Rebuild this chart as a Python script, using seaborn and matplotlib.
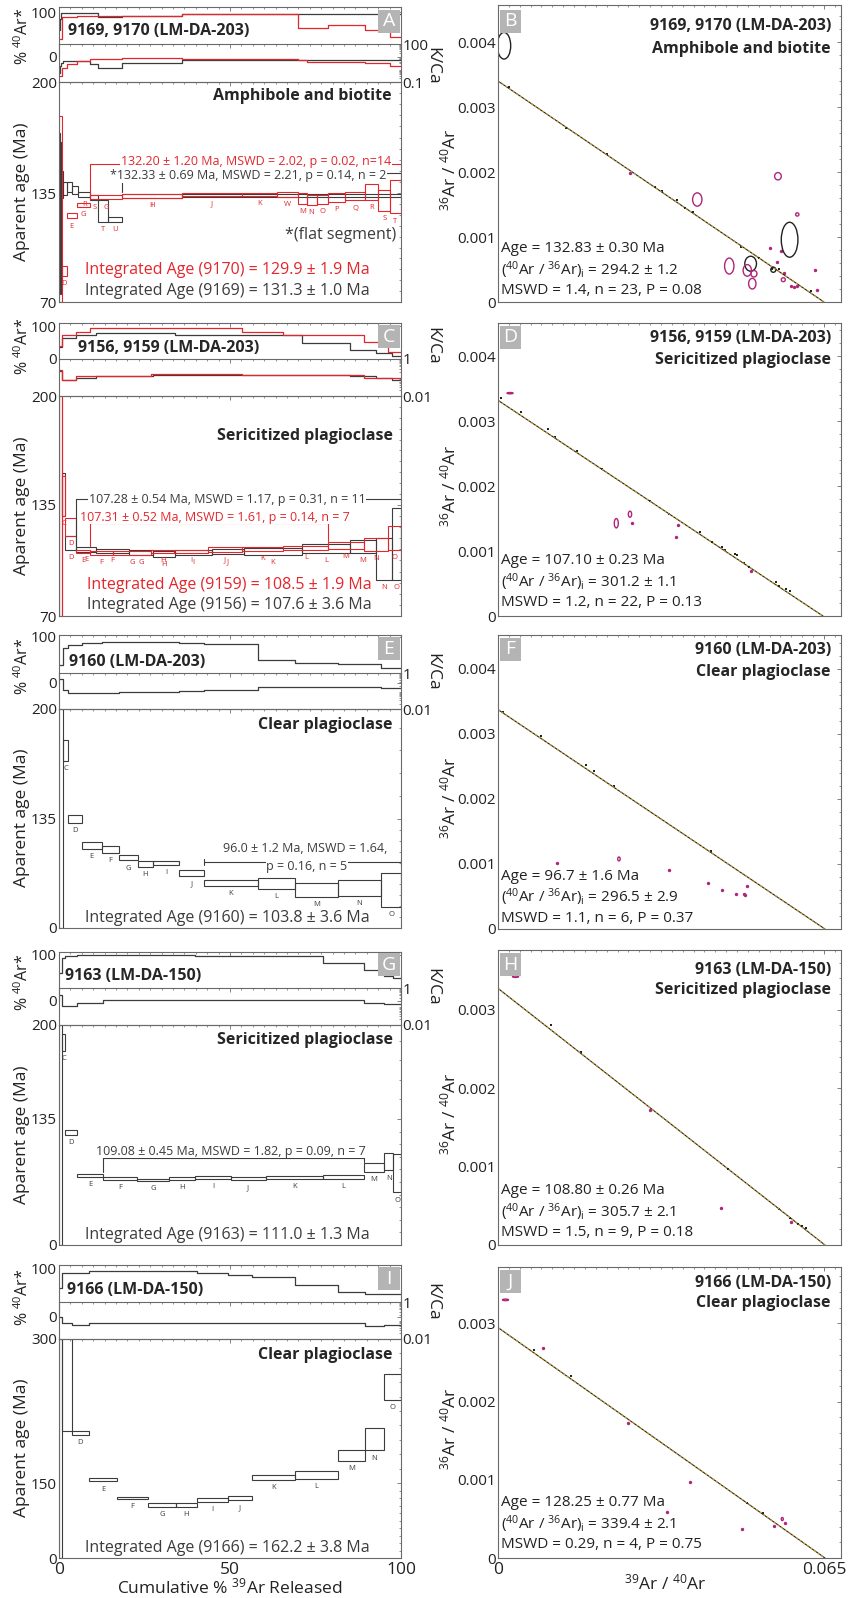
import numpy as np
import matplotlib.pyplot as plt
import matplotlib.ticker as mticker
from matplotlib.patches import Ellipse, Rectangle
import seaborn as sns

sns.set_style('white')
plt.rcParams['font.family'] = ['Open Sans', 'DejaVu Sans']
plt.rcParams['mathtext.fontset'] = 'custom'
plt.rcParams['mathtext.rm'] = 'Open Sans'
plt.rcParams['mathtext.it'] = 'Open Sans:italic'
plt.rcParams['mathtext.bf'] = 'Open Sans:bold'

# ---------------- age spectra (left column) ----------------
# A: 9169 (black) and 9170 (red)
a_9169_edges = [0, 0.3, 0.6, 1.3, 2.2, 3.7, 5.7, 9.1, 11.5, 14.4, 18.3, 35.9, 100]
a_9169_age = [150, 120, 140, 137.5, 138.5, 136.8, 134.1, 132.2, 124.3, 119.5, 133.3, 133.6]
a_9169_err = [20, 45, 8, 3.9, 2.9, 2.6, 1.5, 1.5, 6.3, 1.5, 1.0, 0.8]
a_9169_rad = [60, 85, 97, 98, 98, 98, 98, 98, 90, 90, 91, 95]
a_9169_kca = [0.5, 2, 3, 4.6, 4.6, 4.6, 4.6, 2.5, 1.3, 1.3, 3.0, 5.5]
a_9169_step = ['', '', '', '', '', '', 'R', 'S', 'T', 'U', 'H', '']

a_9170_edges = [0, 0.8, 2.2, 5.2, 9.1, 18.3, 35.9, 53.4, 63.6, 70.0, 72.4, 75.3, 78.8, 83.6, 89.5, 93.4, 96.8, 100]
a_9170_age = [125, 88.7, 121.4, 127.8, 132.4, 133.2, 134.2, 134.1, 134.1, 131.7, 130.8, 131.0, 132.4, 133.0, 135.4, 130.8, 132.7]
a_9170_err = [55, 3, 1.5, 1, 1.2, 1, 0.8, 1, 1.6, 3.3, 2.8, 2.7, 2.6, 2.4, 4.7, 6.2, 9.8]
a_9170_rad = [40, 88, 90, 91, 91, 92, 95, 95, 95, 64, 64, 64, 72, 72, 59, 59, 45]
a_9170_kca = [0.3, 1.2, 2.5, 4.5, 6, 7.5, 6, 6, 6, 5, 4, 4, 3.6, 3.6, 3, 3, 1.7]
a_9170_step = ['', 'D', 'E', 'G', 'G', 'I', 'J', 'K', 'W', 'M', 'N', 'O', 'P', 'Q', 'R', 'S', 'T']

# C: 9156 (black) and 9159 (red)
c_9156_edges = [0, 0.8, 1.8, 5.1, 10.8, 20.4, 27.6, 34.0, 44.6, 54.1, 71.0, 85.2, 92.6, 97.3, 100]
c_9156_age = [140, 141.4, 112.8, 108.9, 108.0, 107.1, 106.1, 107.3, 107.8, 107.8, 109.5, 110.5, 103.3, 112.2]
c_9156_err = [70, 12.9, 4, 1.2, 1.2, 1.3, 1.7, 1.5, 1.4, 2, 2.8, 3.8, 12.3, 21.2]
c_9156_rad = [35, 63, 63, 73, 78, 78, 78, 73, 73, 73, 50, 28, 18, 8]
c_9156_kca = [0.22, 0.07, 0.07, 0.1, 0.12, 0.12, 0.14, 0.14, 0.14, 0.14, 0.14, 0.12, 0.09, 0.07]
c_9156_step = ['', '', 'D', 'E', 'F', 'G', 'H', 'I', 'J', 'K', 'L', 'M', 'N', 'O']

c_9159_edges = [0, 0.8, 1.8, 5.1, 9.1, 15.8, 27.0, 33.6, 43.5, 53.4, 65.5, 78.8, 89.1, 96.3, 100]
c_9159_age = [135, 140.4, 122.1, 107.8, 106.8, 106.8, 107.8, 107.8, 108.8, 109.3, 109.9, 111.3, 111.9, 115.8]
c_9159_err = [70, 11.9, 5.4, 1, 1, 1, 1, 1, 1.3, 1.2, 1.2, 2.2, 4, 6.9]
c_9159_rad = [38, 73, 73, 83, 93, 93, 93, 93, 93, 83, 73, 73, 53, 20]
c_9159_kca = [0.26, 0.074, 0.074, 0.12, 0.12, 0.12, 0.16, 0.16, 0.16, 0.14, 0.14, 0.14, 0.09, 0.09]
c_9159_step = ['', 'C', 'D', 'E', 'F', 'G', 'H', 'I', 'J', 'K', 'L', 'M', 'N', 'O']

# E: 9160
e_edges = [0, 1.3, 2.7, 6.6, 12.5, 17.6, 23.0, 27.6, 35.1, 42.5, 58.1, 69.0, 81.5, 94.2, 100]
e_age = [100, 175.5, 133.8, 102.1, 97, 87.2, 79.4, 80.8, 68, 56.1, 55.1, 47.1, 49.6, 46.8]
e_err = [100, 6.4, 3.8, 3.9, 4, 3.5, 3.9, 2.5, 3.3, 3.7, 6.8, 8.7, 9.5, 20.7]
e_rad = [40, 76, 83, 88, 89, 89, 89, 89, 88, 85, 50, 43, 41, 33]
e_kca = [0.47, 0.11, 0.08, 0.08, 0.08, 0.085, 0.09, 0.09, 0.1, 0.11, 0.17, 0.17, 0.17, 0.15]
e_step = ['', 'C', 'D', 'E', 'F', 'G', 'H', 'I', 'J', 'K', 'L', 'M', 'N', 'O']

# G: 9163
g_edges = [0, 0.8, 1.8, 5.2, 13.0, 22.7, 32.3, 39.8, 50.2, 60.4, 77.1, 89.2, 95.1, 97.7, 100]
g_age = [100, 188, 120.5, 74.6, 71.3, 69.8, 71.3, 72.5, 71.3, 72.5, 72.9, 83, 89.2, 77]
g_err = [100, 6, 2.4, 1.3, 1.5, 1.1, 1.5, 1.3, 1.5, 1.3, 1.8, 4.8, 9.3, 20.6]
g_rad = [60, 93, 97, 99, 99, 99, 99, 98, 98, 97, 83, 67, 55, 50]
g_kca = [0.43, 0.11, 0.11, 0.16, 0.23, 0.23, 0.23, 0.23, 0.23, 0.23, 0.23, 0.16, 0.13, 0.13]
g_step = ['', 'C', 'D', 'E', 'F', 'G', 'H', 'I', 'J', 'K', 'L', 'M', 'N', 'O']

# I: 9166
i_edges = [0, 0.8, 3.7, 8.8, 17.0, 26.1, 34.1, 40.4, 49.4, 56.3, 69.0, 81.6, 89.4, 94.9, 100]
i_age = [150, 500, 202.4, 153.5, 120.4, 107, 105.6, 117, 120.4, 155.7, 158.4, 178.7, 195.7, 250.4]
i_err = [150, 296, 2, 1.7, 2.7, 4, 4, 4, 4, 2.3, 3.8, 6, 11.6, 13.5]
i_rad = [60, 90, 90, 94, 94, 94, 94, 90, 86, 82, 65, 51, 47, 47]
i_kca = [0.16, 0.07, 0.056, 0.075, 0.075, 0.075, 0.075, 0.075, 0.075, 0.075, 0.075, 0.075, 0.05, 0.06]
i_step = ['', '', 'D', 'E', 'F', 'G', 'H', 'I', 'J', 'K', 'L', 'M', 'N', 'O']

# ---------------- inverse isochrons (right column) ----------------
b_yint, b_xint = 0.00340, 0.0650
b_inc_x = [0.00219, 0.01349, 0.02167, 0.03130, 0.03263, 0.03576, 0.03728, 0.03895, 0.04838, 0.05204, 0.05470, 0.05602, 0.06234]
b_inc_y = [0.003313, 0.002673, 0.002279, 0.001767, 0.001715, 0.001562, 0.001449, 0.001383, 0.000845, 0.000676, 0.000512, 0.000512, 0.000164]
b_exc_x = [0.02625, 0.05416, 0.05569, 0.05636, 0.05702, 0.05835, 0.05901, 0.05955, 0.06313, 0.06367]
b_exc_y = [0.001981, 0.000835, 0.000614, 0.000783, 0.000445, 0.000241, 0.000230, 0.000241, 0.000497, 0.000179]
b_kell_x = [0.0012, 0.05815, 0.05038, 0.0549]
b_kell_y = [0.003943, 0.000958, 0.000589, 0.000497]
b_kell_w = [0.00266, 0.00332, 0.00233, 0.001]
b_kell_h = [0.00041, 0.000538, 0.00023, 0.00008]
b_mell_x = [0.03974, 0.04612, 0.04971, 0.05071, 0.05104, 0.05583, 0.05689, 0.05968]
b_mell_y = [0.001577, 0.000553, 0.000486, 0.000282, 0.000435, 0.001935, 0.000343, 0.001347]
b_mell_w = [0.00186, 0.00186, 0.00166, 0.00146, 0.0012, 0.00133, 0.0008, 0.00066]
b_mell_h = [0.000205, 0.000246, 0.000179, 0.000164, 0.0001, 0.000113, 0.00006, 0.00005]

d_yint, d_xint = 0.00332, 0.0648
d_inc_x = [0.00066, 0.00452, 0.00997, 0.01130, 0.01582, 0.02080, 0.03031, 0.03409, 0.04027, 0.04273,
           0.04459, 0.04526, 0.04725, 0.04758, 0.04905, 0.05004, 0.05536, 0.05603, 0.05736, 0.05822]
d_inc_y = [0.003361, 0.003139, 0.002871, 0.002758, 0.002546, 0.002263, 0.001773, 0.001572, 0.001299, 0.001134,
           0.001057, 0.001015, 0.000948, 0.000938, 0.000820, 0.000758, 0.000526, 0.000464, 0.000412, 0.000387]
d_exc_x = [0.02678, 0.03542, 0.03589, 0.05038]
d_exc_y = [0.001439, 0.001222, 0.001402, 0.000696]
d_mell_x = [0.02359, 0.02632, 0.0024]
d_mell_y = [0.001428, 0.001567, 0.00343]
d_mell_w = [0.0008, 0.00066, 0.0012]
d_mell_h = [0.000144, 0.000093, 0.00002]

f_yint, f_xint = 0.003373, 0.0652
f_inc_x = [0.0010, 0.00864, 0.01748, 0.01914, 0.02313, 0.04240]
f_inc_y = [0.003335, 0.002964, 0.002521, 0.002433, 0.002191, 0.001196]
f_exc_x = [0.01183, 0.03409, 0.04194, 0.04473, 0.04752, 0.04905, 0.04925, 0.04971]
f_exc_y = [0.001015, 0.000902, 0.000706, 0.000603, 0.000536, 0.000541, 0.000526, 0.000655]
f_mell_x, f_mell_y, f_mell_w, f_mell_h = [0.02412], [0.001077], [0.0005], [0.00006]

h_yint, h_xint = 0.003271, 0.0652
h_inc_x = [0.0105, 0.01648, 0.04592, 0.05603, 0.05815, 0.05981, 0.06068, 0.06148]
h_inc_y = [0.002809, 0.00246, 0.00097, 0.00046, 0.000349, 0.000264, 0.000243, 0.000213]
h_exc_x = [0.03031, 0.04453, 0.05848]
h_exc_y = [0.001723, 0.000477, 0.000289]
h_mell_x, h_mell_y, h_mell_w, h_mell_h = [0.0035], [0.00342], [0.0012], [0.00002]

j_yint, j_xint = 0.002946, 0.0652
j_inc_x = [0.00718, 0.01449, 0.04958, 0.0529]
j_inc_y = [0.002665, 0.00233, 0.000708, 0.000571]
j_exc_x = [0.00897, 0.02592, 0.03828, 0.04858, 0.05503, 0.05716, 0.03376]
j_exc_y = [0.002682, 0.001721, 0.000966, 0.000373, 0.000408, 0.000451, 0.000584]
j_mell_x, j_mell_y, j_mell_w, j_mell_h = [0.05669, 0.0015], [0.000498, 0.00330], [0.0004, 0.0012], [0.00004, 0.00002]

# ---------------- drawing ----------------
W, H = 848, 1598
fig = plt.figure(figsize=(W / 100, H / 100), dpi=100)
fig.patch.set_facecolor('white')

red = '#e3262b'
dark = '#3c3c3c'
mag = '#b0247a'
gold = '#cfa51f'
frame = '#6a6a6a'
LX0, LX1 = 59, 401
RX0, RX1 = 498, 841


def px_axes(x0, y0, x1, y1):
    return fig.add_axes([x0 / W, 1 - y1 / H, (x1 - x0) / W, (y1 - y0) / H])


def ftext(x, y, s, **kw):
    kw.setdefault('ha', 'left')
    kw.setdefault('va', 'center')
    return fig.text(x / W, 1 - y / H, s, **kw)


def letter_box(x0, y0, x1, y1, s):
    fig.add_artist(Rectangle((x0 / W, 1 - y1 / H), (x1 - x0) / W, (y1 - y0) / H,
                             transform=fig.transFigure, facecolor='#b4b4b4', edgecolor='none'))
    ftext((x0 + x1) / 2, (y0 + y1) / 2, s, ha='center', color='white', fontsize=14)


def style(ax):
    ax.set_facecolor('none')
    for sp in ax.spines.values():
        sp.set_color(frame)
        sp.set_linewidth(0.8)
    ax.tick_params(which='both', direction='in', color='#808080', top=True, right=True,
                   labelsize=11, pad=1.5, labelcolor='#222222')
    ax.tick_params(which='major', length=3, width=0.7)
    ax.tick_params(which='minor', length=1.6, width=0.6)
    ax.set_xlabel('')
    ax.set_ylabel('')


def piecewise(vals, pos):
    vals = np.asarray(vals, float)
    pos = np.asarray(pos, float)

    def make(a, b):
        def f(v):
            v = np.asarray(v, float)
            out = np.interp(v, a, b)
            lo = (b[1] - b[0]) / (a[1] - a[0])
            hi = (b[-1] - b[-2]) / (a[-1] - a[-2])
            out = np.where(v < a[0], b[0] + (v - a[0]) * lo, out)
            out = np.where(v > a[-1], b[-1] + (v - a[-1]) * hi, out)
            return out
        return f
    return make(vals, pos), make(pos, vals)


def step_line(ax, edges, vals, color):
    sns.lineplot(x=list(edges), y=list(vals) + [vals[-1]], ax=ax, color=color, linewidth=0.9,
                 drawstyle='steps-post', estimator=None, sort=False, legend=False)


def bracket(ax, x0, x1, y, lo0, lo1, color, hi0=None, hi1=None):
    hi0 = y if hi0 is None else hi0
    hi1 = y if hi1 is None else hi1
    ax.plot([x0, x1], [y, y], color=color, lw=0.8)
    ax.plot([x0, x0], [hi0, lo0], color=color, lw=0.8)
    ax.plot([x1, x1], [hi1, lo1], color=color, lw=0.8)


def spectrum_panel(geom, age_vals, age_pos, kca_lim, samples, xlabels=False):
    top, p100, p0, sep, atop, bot = geom
    ax_r = px_axes(LX0, top, LX1, p0)
    ax_k = px_axes(LX0, sep, LX1, atop)
    ax_a = px_axes(LX0, atop, LX1, bot)
    ax_k.set_yscale('log')
    ax_a.set_yscale('function', functions=piecewise(age_vals, age_pos))
    for s in samples:
        step_line(ax_r, s['edges'], s['rad'], s['color'])
        step_line(ax_k, s['edges'], s['kca'], s['color'])
        ed = np.asarray(s['edges'], float)
        age = np.asarray(s['age'], float)
        err = np.asarray(s['err'], float)
        ax_a.bar(ed[:-1], 2 * err, bottom=age - err, width=np.diff(ed), align='edge',
                 fill=False, edgecolor=s['color'], linewidth=0.8)
        for x, lo, lab in zip((ed[:-1] + ed[1:]) / 2, age - err, s['step']):
            if lab:
                ax_a.annotate(lab, (x, lo), xytext=(0, -3), textcoords='offset points',
                              ha='center', va='top', fontsize=5.5, color=s['lcolor'],
                              annotation_clip=True)
    for ax in (ax_r, ax_k, ax_a):
        style(ax)
        ax.set_xlim(0, 100)
        ax.xaxis.set_major_locator(mticker.FixedLocator([0, 50, 100]))
        ax.xaxis.set_minor_locator(mticker.MultipleLocator(100 / 30))
        ax.tick_params(axis='x', labelbottom=False)
    # % 40Ar*
    ax_r.set_ylim(0, 100 * (p0 - top) / (p0 - p100))
    ax_r.set_yticks([0, 100])
    ax_r.set_yticklabels(['0', '100'])
    ax_r.spines['bottom'].set_visible(False)
    ax_r.tick_params(axis='x', which='both', bottom=False)
    # K/Ca
    ax_k.set_ylim(*kca_lim)
    ax_k.set_yticks(list(kca_lim))
    ax_k.set_yticklabels([('%g' % v) for v in kca_lim])
    ax_k.yaxis.set_minor_formatter(mticker.NullFormatter())
    ax_k.tick_params(axis='y', labelleft=False, labelright=True, pad=1)
    # apparent age
    ax_a.set_ylim(age_vals[0], age_vals[-1])
    ax_a.set_yticks(age_vals)
    ax_a.set_yticklabels([str(v) for v in age_vals])
    ax_a.yaxis.set_minor_locator(mticker.AutoMinorLocator(10))
    if xlabels:
        ax_a.tick_params(axis='x', labelbottom=True, labelsize=12.5, pad=3)
        ax_a.set_xticklabels(['0', '50', '100'])
    return ax_a


def isochron_panel(top, bot, ymax, yticks, yint, xint, inc_x, inc_y, exc_x, exc_y, ells, xlabels=False):
    ax = px_axes(RX0, top, RX1, bot)
    sns.lineplot(x=[0, xint], y=[yint, 0], ax=ax, color='#222222', linewidth=0.8, legend=False)
    sns.lineplot(x=[0, xint], y=[yint, 0], ax=ax, color=gold, linewidth=0.8, linestyle=(0, (2, 2)),
                 legend=False)
    sns.scatterplot(x=inc_x, y=inc_y, ax=ax, color='#222222', marker='s', s=3, linewidth=0, legend=False)
    sns.scatterplot(x=exc_x, y=exc_y, ax=ax, color=mag, marker='o', s=6, linewidth=0, legend=False)
    for ex, ey, ew, eh, ec in ells:
        for x, y, w, h in zip(ex, ey, ew, eh):
            ax.add_patch(Ellipse((x, y), w, h, fill=False, edgecolor=ec, linewidth=1.0))
    style(ax)
    ax.set_xlim(0, 0.0684)
    ax.set_ylim(0, ymax)
    ax.xaxis.set_major_locator(mticker.FixedLocator([0, 0.065]))
    ax.xaxis.set_minor_locator(mticker.MultipleLocator(0.065 / 30))
    ax.set_yticks(yticks)
    ax.set_yticklabels(['0' if v == 0 else '%.3f' % v for v in yticks])
    ax.yaxis.set_minor_locator(mticker.AutoMinorLocator(5))
    if xlabels:
        ax.tick_params(axis='x', labelbottom=True, labelsize=12.5, pad=3)
        ax.set_xticklabels(['0', '0.065'])
    else:
        ax.tick_params(axis='x', labelbottom=False)
    return ax


def sample(edges, age, err, rad, kca, step, color, lcolor):
    return dict(edges=edges, age=age, err=err, rad=rad, kca=kca, step=step, color=color, lcolor=lcolor)


# ---- left column ----
axA = spectrum_panel((7, 12, 57, 44, 82, 302), [70, 135, 200], [0, 0.495, 1], (0.1, 100), [
    sample(a_9169_edges, a_9169_age, a_9169_err, a_9169_rad, a_9169_kca, a_9169_step, dark, red),
    sample(a_9170_edges, a_9170_age, a_9170_err, a_9170_rad, a_9170_kca, a_9170_step, red, red)])
bracket(axA, a_9170_edges[4], a_9170_edges[-1], 151.8, 133.6, 150.2, red)
bracket(axA, a_9169_edges[10], a_9169_edges[-1], 146.9, 135.6, 141.6, dark)

axC = spectrum_panel((323, 326, 359, 359, 396, 616), [70, 135, 200], [0, 0.505, 1], (0.01, 1), [
    sample(c_9156_edges, c_9156_age, c_9156_err, c_9156_rad, c_9156_kca, c_9156_step, dark, red),
    sample(c_9159_edges, c_9159_age, c_9159_err, c_9159_rad, c_9159_kca, c_9159_step, red, red)])
bracket(axC, c_9156_edges[3], c_9156_edges[-1], 138.4, 110.7, 137.0, dark)
bracket(axC, c_9159_edges[4], c_9159_edges[11], 124.2, 110.7, 113.7, red)

axE = spectrum_panel((635, 637, 683, 673, 709, 928), [0, 135, 200], [0, 0.498, 1], (0.01, 1), [
    sample(e_edges, e_age, e_err, e_rad, e_kca, e_step, dark, dark)])
bracket(axE, e_edges[9], e_edges[-1], 81.4, 78.0, 78.0, dark, 85.0, 85.0)

axG = spectrum_panel((952, 955, 1001, 988, 1025, 1245), [0, 135, 200], [0, 0.573, 1], (0.01, 1), [
    sample(g_edges, g_age, g_err, g_rad, g_kca, g_step, dark, dark)])
bracket(axG, g_edges[4], g_edges[11], 93.1, 77.7, 88.8, dark)

axI = spectrum_panel((1265, 1268, 1317, 1302, 1339, 1558), [0, 150, 300], [0, 0.342, 1], (0.01, 1), [
    sample(i_edges, i_age, i_err, i_rad, i_kca, i_step, dark, dark)], xlabels=True)

# ---- right column ----
axB = isochron_panel(5, 302, 0.00457, [0, 0.001, 0.002, 0.003, 0.004], b_yint, b_xint,
                     b_inc_x, b_inc_y, b_exc_x, b_exc_y,
                     [(b_kell_x, b_kell_y, b_kell_w, b_kell_h, '#222222'),
                      (b_mell_x, b_mell_y, b_mell_w, b_mell_h, mag)])
axD = isochron_panel(323, 616, 0.00451, [0, 0.001, 0.002, 0.003, 0.004], d_yint, d_xint,
                     d_inc_x, d_inc_y, d_exc_x, d_exc_y,
                     [(d_mell_x, d_mell_y, d_mell_w, d_mell_h, mag)])
axF = isochron_panel(635, 929, 0.00452, [0, 0.001, 0.002, 0.003, 0.004], f_yint, f_xint,
                     f_inc_x, f_inc_y, f_exc_x, f_exc_y,
                     [(f_mell_x, f_mell_y, f_mell_w, f_mell_h, mag)])
axH = isochron_panel(950, 1245, 0.00376, [0, 0.001, 0.002, 0.003], h_yint, h_xint,
                     h_inc_x, h_inc_y, h_exc_x, h_exc_y,
                     [(h_mell_x, h_mell_y, h_mell_w, h_mell_h, mag)])
axJ = isochron_panel(1267, 1558, 0.00372, [0, 0.001, 0.002, 0.003], j_yint, j_xint,
                     j_inc_x, j_inc_y, j_exc_x, j_exc_y,
                     [(j_mell_x, j_mell_y, j_mell_w, j_mell_h, mag)], xlabels=True)

# ---- texts: left column ----
big = 11.5
mid = 11.5
small = 9
lab = 12.5
wbox = dict(facecolor='white', edgecolor='none', pad=0.6)

for y_lab, y_kca, y_age in [(36, 66, 192), (346, 346, 506), (666, 672, 818), (982, 987, 1135), (1297, 1302, 1448)]:
    ftext(23, y_lab, r'% $^{40}$Ar*', rotation=90, ha='center', fontsize=11.5, color='#222222')
    ftext(432, y_kca, 'K/Ca', rotation=-90, ha='center', fontsize=lab, color='#222222')
    ftext(22, y_age, 'Aparent age (Ma)', rotation=90, ha='center', fontsize=lab, color='#222222')

ftext(68, 31, '9169, 9170 (LM-DA-203)', fontsize=big, fontweight='bold')
ftext(78, 348, '9156, 9159 (LM-DA-203)', fontsize=big, fontweight='bold')
ftext(69, 662, '9160 (LM-DA-203)', fontsize=big, fontweight='bold')
ftext(65, 976, '9163 (LM-DA-150)', fontsize=big, fontweight='bold')
ftext(67, 1290, '9166 (LM-DA-150)', fontsize=big, fontweight='bold')

ftext(392, 96, 'Amphibole and biotite', ha='right', fontsize=big, fontweight='bold')
ftext(393, 436, 'Sericitized plagioclase', ha='right', fontsize=big, fontweight='bold')
ftext(393, 725, 'Clear plagioclase', ha='right', fontsize=big, fontweight='bold')
ftext(393, 1040, 'Sericitized plagioclase', ha='right', fontsize=big, fontweight='bold')
ftext(393, 1355, 'Clear plagioclase', ha='right', fontsize=big, fontweight='bold')

ftext(256, 162, '132.20 ± 1.20 Ma, MSWD = 2.02, p = 0.02, n=14', ha='center', fontsize=small, color=red, bbox=wbox)
ftext(248, 176, '*132.33 ± 0.69 Ma, MSWD = 2.21, p = 0.14, n = 2', ha='center', fontsize=small, color=dark, bbox=wbox)
ftext(396, 235, '*(flat segment)', ha='right', fontsize=mid, color=dark)
ftext(227, 270, 'Integrated Age (9170) = 129.9 ± 1.9 Ma', ha='center', fontsize=mid, color=red)
ftext(227, 291, 'Integrated Age (9169) = 131.3 ± 1.0 Ma', ha='center', fontsize=mid, color=dark)

ftext(227, 500, '107.28 ± 0.54 Ma, MSWD = 1.17, p = 0.31, n = 11', ha='center', fontsize=small, color=dark, bbox=wbox)
ftext(215, 517, '107.31 ± 0.52 Ma, MSWD = 1.61, p = 0.14, n = 7', ha='center', fontsize=small, color=red, bbox=wbox)
ftext(229, 585, 'Integrated Age (9159) = 108.5 ± 1.9 Ma', ha='center', fontsize=mid, color=red)
ftext(229, 605, 'Integrated Age (9156) = 107.6 ± 3.6 Ma', ha='center', fontsize=mid, color=dark)

ftext(305, 848, '96.0 ± 1.2 Ma, MSWD = 1.64,', ha='center', fontsize=small, color=dark, bbox=wbox)
ftext(307, 866, 'p = 0.16, n = 5', ha='center', fontsize=small, color=dark, bbox=wbox)
ftext(227, 918, 'Integrated Age (9160) = 103.8 ± 3.6 Ma', ha='center', fontsize=mid, color=dark)

ftext(231, 1151, '109.08 ± 0.45 Ma, MSWD = 1.82, p = 0.09, n = 7', ha='center', fontsize=small, color=dark, bbox=wbox)
ftext(227, 1235, 'Integrated Age (9163) = 111.0 ± 1.3 Ma', ha='center', fontsize=mid, color=dark)
ftext(227, 1548, 'Integrated Age (9166) = 162.2 ± 3.8 Ma', ha='center', fontsize=mid, color=dark)

ftext(230, 1587, r'Cumulative % $^{39}$Ar Released', ha='center', fontsize=lab, color='#222222')

for y0, s in [(10, 'A'), (325, 'C'), (637, 'E'), (953, 'G'), (1267, 'I')]:
    letter_box(378, y0, 400, y0 + 23, s)

# ---- texts: right column ----
iso_titles = [(26, 49, '9169, 9170 (LM-DA-203)', 'Amphibole and biotite'),
              (338, 360, '9156, 9159 (LM-DA-203)', 'Sericitized plagioclase'),
              (650, 672, '9160 (LM-DA-203)', 'Clear plagioclase'),
              (970, 990, '9163 (LM-DA-150)', 'Sericitized plagioclase'),
              (1283, 1303, '9166 (LM-DA-150)', 'Clear plagioclase')]
for y1, y2, t1, t2 in iso_titles:
    ftext(831, y1, t1, ha='right', fontsize=big, fontweight='bold')
    ftext(831, y2, t2, ha='right', fontsize=big, fontweight='bold')

iso_stats = [(249, '132.83 ± 0.30', '294.2 ± 1.2', 'MSWD = 1.4, n = 23, P = 0.08'),
             (561, '107.10 ± 0.23', '301.2 ± 1.1', 'MSWD = 1.2, n = 22, P = 0.13'),
             (876, '96.7 ± 1.6', '296.5 ± 2.9', 'MSWD = 1.1, n = 6, P = 0.37'),
             (1191, '108.80 ± 0.26', '305.7 ± 2.1', 'MSWD = 1.5, n = 9, P = 0.18'),
             (1503, '128.25 ± 0.77', '339.4 ± 2.1', 'MSWD = 0.29, n = 4, P = 0.75')]
for y, age, ratio, mswd in iso_stats:
    ftext(501, y, 'Age = %s Ma' % age, fontsize=11, color='#222222')
    ftext(501, y + 21, r'($^{40}$Ar / $^{36}$Ar)$_{\rm i}$ = ' + ratio, fontsize=11, color='#222222')
    ftext(501, y + 42, mswd, fontsize=11, color='#222222')

for top, bot in [(5, 302), (323, 616), (635, 929), (950, 1245), (1267, 1558)]:
    ftext(449, (top + bot) / 2 + 16, r'$^{36}$Ar / $^{40}$Ar', rotation=90, ha='center', fontsize=lab,
          color='#222222')

for y0, s in [(10, 'B'), (326, 'D'), (638, 'F'), (953, 'H'), (1270, 'J')]:
    letter_box(500, y0, 521, y0 + 23, s)

ftext(665, 1583, r'$^{39}$Ar / $^{40}$Ar', ha='center', fontsize=lab, color='#222222')

fig.savefig('out.png', dpi=100, facecolor='white')
